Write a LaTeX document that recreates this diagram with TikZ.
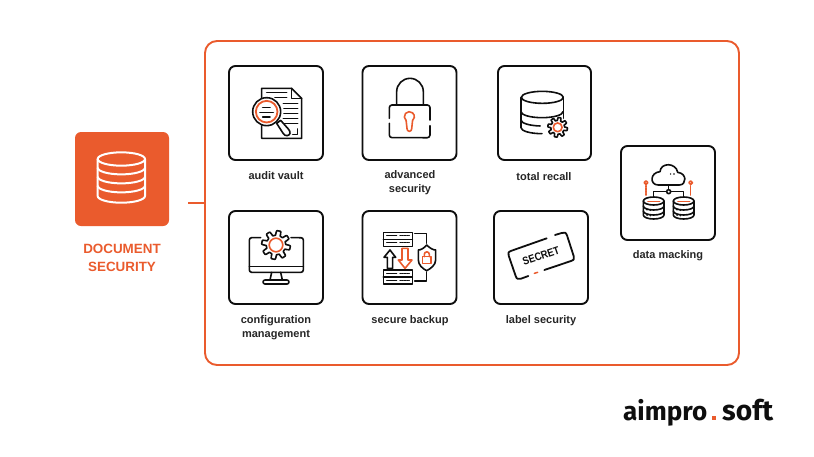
\documentclass[tikz,border=0pt]{standalone}
\usepackage{fontspec}
\setmainfont{Liberation Sans}
\newfontfamily\logofont{Fira Sans}
\definecolor{brand}{HTML}{EA5B2D}
\definecolor{ink}{HTML}{0E0E0E}
\definecolor{txt}{HTML}{262626}
\newcommand{\gearshape}[5]{% cx cy R A style
  \draw[#5] plot[domain=0:360,samples=145,variable=\t]
  ({#1+(#3+#4*min(1,max(-1,2.5*sin(8*\t))))*cos(\t)},{#2+(#3+#4*min(1,max(-1,2.5*sin(8*\t))))*sin(\t)}) -- cycle;}
\newcommand{\dbcyl}[2]{% cx top (zoom units)
  \draw[icon,fill=white] (#1-31,#2) -- (#1-31,#2+42) arc[start angle=180,end angle=360,x radius=10.33pt,y radius=4pt] -- (#1+31,#2) ;
  \draw[icon] (#1,#2) ellipse[x radius=31,y radius=12];
  \draw[icon] (#1-31,#2+15) arc[start angle=180,end angle=360,x radius=10.33pt,y radius=4pt];
  \draw[icon] (#1-31,#2+30) arc[start angle=180,end angle=360,x radius=10.33pt,y radius=4pt];
  \draw[oicon] (#1-17,#2+2) -- (#1+18,#2+2);
  \fill[ink] (#1-20,#2+26) circle[radius=1pt] (#1-10,#2+28) circle[radius=.8pt] (#1-20,#2+42) circle[radius=1pt] (#1-10,#2+44) circle[radius=.8pt];}
\tikzset{
  x=1pt,y=-1pt,
  tilebox/.style={draw=ink,line width=1.9pt,rounded corners=6.5pt,fill=white,inner sep=0pt,outer sep=0pt,minimum width=#1},
  tilebox/.default=94pt,
  tilelabel/.style={font=\fontsize{11}{14}\selectfont\bfseries,text=txt,align=center,inner sep=0pt},
  icon/.style={draw=ink,line width=1.6pt,line join=round,line cap=round},
  oicon/.style={draw=brand,line width=1.6pt,line join=round,line cap=round},
  zo/.style 2 args={shift={(#1,#2)},x=0.33333pt,y=-0.33333pt},
}
\begin{document}
\begin{tikzpicture}
\useasboundingbox (0,0) rectangle (814,456);
\fill[white] (0,0) rectangle (814,456);
% frame and source
\node[draw=brand,line width=1.9pt,rounded corners=12pt,inner sep=0pt,outer sep=0pt,minimum width=534pt,minimum height=324pt] (frame) at (472,203) {};
\node[fill=brand,rounded corners=6pt,inner sep=0pt,minimum width=94pt,minimum height=94pt] (source) at (122,179) {};
\node[font=\fontsize{13.4}{18}\selectfont\bfseries,text=brand,align=center,inner sep=0pt] (sourcelabel) at (122,258) {DOCUMENT\\SECURITY};
\coordinate (stub) at (188,203);
\draw[brand,line width=1.7pt] (stub) -- (frame.west);
% source icon
\begin{scope}[zo={60}{120},white,line width=2pt,line join=round]
  \draw (113,117) -- (113,228) arc[start angle=180,end angle=360,x radius=23.67pt,y radius=6.7pt] -- (255,117);
  \draw (184,117) ellipse[x radius=71,y radius=20];
  \foreach \yy in {143,170,197}{\draw (113,\yy) arc[start angle=180,end angle=360,x radius=23.67pt,y radius=6.7pt];}
\end{scope}
% tiles
\node[tilebox,minimum height=94pt] (audit) at (276,113) {};
\node[tilebox,minimum height=94pt] (advanced) at (409.5,113) {};
\node[tilebox,minimum height=94pt,minimum width=93pt] (recall) at (544.5,113) {};
\node[tilebox,minimum height=94pt] (masking) at (668,193) {};
\node[tilebox,minimum height=93pt] (config) at (276,257.5) {};
\node[tilebox,minimum height=93pt] (backup) at (409.5,257.5) {};
\node[tilebox,minimum height=93pt] (labelsec) at (541,257.5) {};
% labels
\node[tilelabel] (t1) at (276,175.5) {audit vault};
\node[tilelabel] (t2) at (410,183) {advanced\\security};
\node[tilelabel] (t3) at (544,176.5) {total recall};
\node[tilelabel] (t4) at (668,255.5) {data macking};
\node[tilelabel] (t5) at (276,328) {configuration\\management};
\node[tilelabel] (t6) at (410,320.5) {secure backup};
\node[tilelabel] (t7) at (541,320.5) {label security};
% audit icon
\begin{scope}[zo={220}{55}]
  \draw[icon] (125,130) -- (125,100) -- (215,100) -- (245,130) -- (245,250) -- (125,250) -- (125,212);
  \draw[icon] (215,100) -- (215,130) -- (245,130);
  \draw[icon] (140,113) -- (200,113) (165,128) -- (200,128) (190,145) -- (233,145) (192,160) -- (233,160) (192,175) -- (233,175) (190,190) -- (233,190) (185,205) -- (233,205) (233,222) -- (233,238) -- (218,238);
  \draw[icon,fill=white] (170,205) -- (190,236) .. controls (196,245) and (208,243) .. (210,235) .. controls (211,230) and (208,226) .. (205,222) -- (182,196) -- cycle;
  \draw[icon,fill=white] (140,170) circle[radius=14pt];
  \draw[oicon,line width=1.8pt] (140,170) circle[radius=10.8pt];
  \draw[icon] (128,158) -- (150,158) (120,172) -- (160,172) (128,186) -- (150,186);
% lock icon
  \draw[icon] (530,150) -- (530,110) arc[start angle=180,end angle=0,radius=13.33pt] -- (610,150);
  \draw[icon] (515,150) -- (622,150) arc[start angle=90,end angle=0,radius=2.7pt] -- (630,195) (630,212) -- (630,240) arc[start angle=0,end angle=-90,radius=2.7pt] -- (516,248) arc[start angle=270,end angle=180,radius=2.7pt] -- (508,205) (508,190) -- (508,158) arc[start angle=180,end angle=90,radius=2.7pt];
  \draw[oicon] (558.4,196.5) arc[start angle=230,end angle=-50,radius=5pt] -- (575,222) arc[start angle=0,end angle=-180,radius=2.3pt] -- cycle;
\end{scope}
% total recall icon
\begin{scope}[zo={490}{55}]
  \draw[icon] (93,127) -- (93,218) arc[start angle=180,end angle=270,x radius=21pt,y radius=6pt];
  \draw[icon] (220,127) -- (220,190);
  \draw[icon] (157,127) ellipse[x radius=63,y radius=18];
  \draw[icon] (93,170) arc[start angle=180,end angle=360,x radius=21pt,y radius=6pt];
  \draw[icon] (93,195) arc[start angle=180,end angle=265,x radius=21pt,y radius=6pt];
  \gearshape{203}{217}{25}{4.5}{icon,fill=white}
  \draw[oicon] (203,217) circle[radius=4.4pt];
% masking icon
  \draw[icon] (505,390) -- (568,390) .. controls (590,390) and (592,355) .. (563,352) .. controls (558,322) and (512,322) .. (510,350) .. controls (480,352) and (478,390) .. (505,390);
  \fill[ink] (542,357) circle[radius=.8pt] (552,357) circle[radius=.8pt];
  \draw[icon] (536,390) -- (536,404);
  \draw[icon] (490,425) -- (490,410) -- (530,410) (542,410) -- (580,410) -- (580,425);
  \draw[icon,fill=white] (536,410) circle[radius=2pt];
  \dbcyl{491}{438}
  \dbcyl{581}{438}
  \draw[oicon,fill=white] (468,383) circle[radius=1.8pt] (602,383) circle[radius=1.8pt];
  \draw[oicon,densely dotted] (468,392) -- (468,422) (602,392) -- (602,422);
\end{scope}
% configuration icon
\begin{scope}[zo={220}{200}]
  \draw[icon] (122,113) -- (95,113) arc[start angle=90,end angle=180,radius=2.3pt] -- (88,210) arc[start angle=180,end angle=270,radius=2.3pt] -- (243,217) arc[start angle=270,end angle=360,radius=2.3pt] -- (250,120) arc[start angle=0,end angle=90,radius=2.3pt] -- (213,113);
  \draw[icon] (88,200) -- (250,200);
  \gearshape{168}{135}{36}{7}{icon,fill=white}
  \draw[oicon] (168,135) circle[radius=6.8pt];
  \draw[icon] (155,217) -- (150,240) (182,217) -- (187,240);
  \draw[icon] (135,240) -- (201,240) arc[start angle=90,end angle=-90,radius=2pt] -- (135,252) arc[start angle=270,end angle=90,radius=2pt];
% backup icon
  \foreach \yy in {97,210}{
    \draw[icon] (490,\yy) rectangle (577,\yy+42);
    \draw[icon] (490,\yy+21) -- (577,\yy+21);
    \draw[icon,line width=1.2pt] (500,\yy+10) -- (530,\yy+10) (500,\yy+31) -- (530,\yy+31);
    \draw[icon,line width=1.2pt,densely dotted] (540,\yy+10) -- (568,\yy+10) (540,\yy+31) -- (568,\yy+31);
  }
  \draw[icon] (584,100) -- (620,100) -- (620,130) (584,243) -- (620,243) -- (620,216);
  \draw[icon] (510,150) -- (527,172) -- (518,172) -- (518,205) -- (502,205) -- (502,172) -- (492,172) -- cycle;
  \draw[oicon] (555,205) -- (535,180) -- (546,180) -- (546,145) -- (564,145) -- (564,180) -- (576,180) -- cycle;
  \draw[icon] (620,135) .. controls (630,145) and (640,150) .. (647,150) -- (647,180) .. controls (647,195) and (632,206) .. (620,212) .. controls (608,206) and (595,195) .. (595,180) -- (595,150) .. controls (602,150) and (612,145) .. (620,135) -- cycle;
  \draw[oicon] (608,170) rectangle (633,190);
  \draw[oicon] (613,170) -- (613,163) arc[start angle=180,end angle=0,radius=2.5pt] -- (628,170);
\end{scope}
% label icon
\begin{scope}[zo={485}{200}]
  \draw[icon,line width=1.8pt] (185,115) -- (80,152) .. controls (70,155) and (68,160) .. (71,167) -- (92,228) .. controls (95,238) and (100,238) .. (108,236) -- (130,228);
  \draw[icon,line width=1.8pt] (178,210) -- (258,183) .. controls (267,180) and (269,176) .. (266,168) -- (246,106) .. controls (243,97) and (238,96) .. (230,99) -- (210,105);
  \draw[oicon,line width=1.5pt] (148,220) -- (158,217);
  \node[rotate=19,font=\fontsize{11}{11}\selectfont\bfseries,text=ink,inner sep=0pt] (secret) at (168,168) {\scalebox{.86}[1]{SECRET}};
\end{scope}
% logo
\node[anchor=base west,font=\logofont\fontsize{33}{33}\selectfont,text=ink,inner sep=0pt] (logoa) at (623,420) {\resizebox{84pt}{!}{\bfseries aimpro}};
\node[fill=brand,inner sep=0pt,minimum width=4.4pt,minimum height=4.4pt] (logodot) at (714,418) {};
\node[anchor=base west,font=\logofont\fontsize{33}{33}\selectfont,text=ink,inner sep=0pt] (logob) at (722,420) {\resizebox{51pt}{!}{\bfseries soft}};
\end{tikzpicture}
\end{document}
